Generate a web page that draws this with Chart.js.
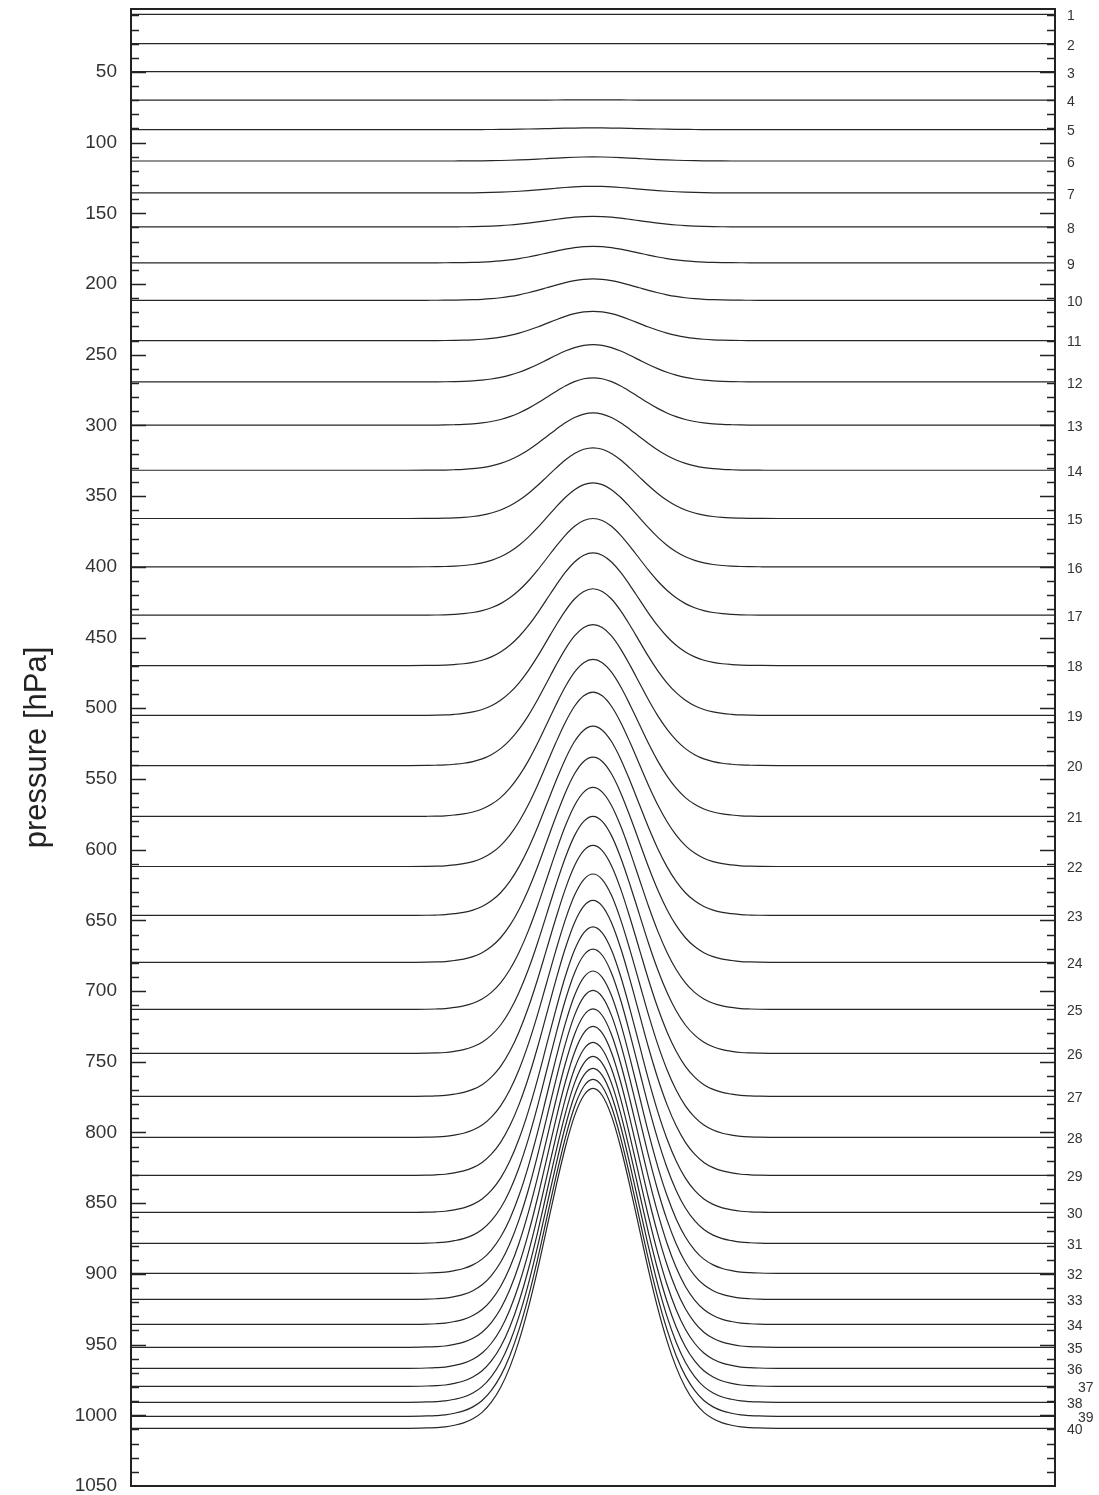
<!DOCTYPE html>
<html>
<head>
<meta charset="utf-8">
<script src="https://cdn.jsdelivr.net/npm/chart.js@4"></script>
<style>
  html, body { margin: 0; padding: 0; background: #fff; }
  #wrap { width: 1099px; height: 1495px; }
</style>
</head>
<body>
<div id="wrap"><canvas id="myChart" width="1099" height="1495"></canvas></div>
<script>
// model level numbers shown on the right
const levelNames = ['1','2','3','4','5','6','7','8','9','10','11','12','13','14','15','16','17','18','19','20',
                    '21','22','23','24','25','26','27','28','29','30','31','32','33','34','35','36','37','38','39','40'];

// pressure of each level over flat ground (hPa)
const levelFlat = [9.3, 30.0, 49.8, 70.0, 90.8, 113.0, 135.6, 159.6, 185.0, 211.5,
                   240.0, 269.2, 299.8, 331.7, 365.8, 400.0, 434.2, 469.8, 505.1, 540.5,
                   576.5, 611.9, 646.5, 679.7, 713.0, 744.1, 774.5, 803.5, 830.3, 856.5,
                   878.4, 899.6, 918.0, 935.7, 951.9, 966.8, 979.5, 990.8, 1000.7, 1009.2];

// pressure of each level over the mountain crest (hPa)
const levelCrest = [9.3, 30.0, 49.8, 69.8, 89.6, 110.1, 130.9, 152.1, 173.3, 196.4,
                    219.3, 242.8, 266.3, 291.1, 315.8, 340.6, 365.8, 390.1, 415.5, 440.8,
                    465.5, 488.6, 512.7, 534.6, 556.0, 576.5, 597.0, 617.2, 635.9, 654.6,
                    670.3, 685.8, 699.5, 712.6, 725.0, 736.3, 746.2, 754.7, 762.5, 768.8];

// horizontal positions and the bump profile read across the section (0 = flat, 1 = crest)
const profileX = [0, 30, 32, 33, 34, 35, 36, 37, 38, 39, 40, 41, 42, 43, 44, 45, 46, 47, 48, 49, 50,
                  51, 52, 53, 54, 55, 56, 57, 58, 59, 60, 61, 62, 63, 64, 65, 66, 67, 68, 70, 100];
const profileShape = [0, 0, 0.001, 0.002, 0.004, 0.009, 0.016, 0.028, 0.047, 0.077, 0.120, 0.180, 0.258, 0.354, 0.466, 0.589, 0.712, 0.826, 0.919, 0.979, 1,
                      0.979, 0.919, 0.826, 0.712, 0.589, 0.466, 0.354, 0.258, 0.180, 0.120, 0.077, 0.047, 0.028, 0.016, 0.009, 0.004, 0.002, 0.001, 0, 0];

// labelled pressure ticks on the left
const pressureTicks = [50, 100, 150, 200, 250, 300, 350, 400, 450, 500, 550, 600, 650, 700, 750, 800, 850, 900, 950, 1000, 1050];

const datasets = levelFlat.map((flat, k) => ({
  label: levelNames[k],
  data: profileX.map((x, i) => ({ x: x, y: flat - (flat - levelCrest[k]) * profileShape[i] })),
  borderColor: '#262626',
  borderWidth: 1.2,
  pointRadius: 0,
  fill: false,
  cubicInterpolationMode: 'monotone'
}));

// inward tick marks, frame and the level numbers
const frameTicks = {
  id: 'frameTicks',
  afterDraw(chart) {
    const { ctx, chartArea: a } = chart;
    const y = chart.scales.y;
    ctx.save();
    ctx.strokeStyle = '#222';
    ctx.lineWidth = 1.5;
    for (let v = 10; v < 1050; v += 10) {
      const py = Math.round(y.getPixelForValue(v)) + 0.5;
      const len = pressureTicks.includes(v) ? 15 : 8;
      ctx.beginPath();
      ctx.moveTo(a.left, py); ctx.lineTo(a.left + len, py);
      ctx.moveTo(a.right, py); ctx.lineTo(a.right - len, py);
      ctx.stroke();
    }
    ctx.lineWidth = 2;
    ctx.strokeRect(a.left, a.top, a.right - a.left, a.bottom - a.top);

    ctx.fillStyle = '#333';
    ctx.font = '14px "Liberation Sans", Arial, sans-serif';
    ctx.textAlign = 'left';
    ctx.textBaseline = 'middle';
    levelNames.forEach((name, k) => {
      const py = y.getPixelForValue(levelFlat[k]) + 2;
      const shift = (name === '37' || name === '39') ? 11 : 0;
      ctx.fillText(name, a.right + 12 + shift, py);
    });
    ctx.restore();
  }
};

const ctx = document.getElementById('myChart').getContext('2d');
const myChart = new Chart(ctx, {
  type: 'line',
  data: { datasets: datasets },
  options: {
    responsive: false,
    animation: false,
    layout: { padding: { top: 9, bottom: 9, left: 0, right: 0 } },
    plugins: { legend: { display: false }, tooltip: { enabled: false } },
    scales: {
      x: { type: 'linear', min: 0, max: 100, display: false },
      y: {
        type: 'linear',
        position: 'left',
        reverse: true,
        min: 5.5,
        max: 1050,
        grid: { display: false, drawTicks: false },
        border: { display: false },
        ticks: {
          stepSize: 50,
          includeBounds: false,
          padding: 14,
          color: '#333',
          font: { family: '"Liberation Sans", Arial, sans-serif', size: 19, lineHeight: 1 },
          callback: (v) => pressureTicks.includes(v) ? String(v) : ''
        },
        title: {
          display: true,
          text: 'pressure [hPa]',
          color: '#222',
          font: { family: '"Liberation Sans", Arial, sans-serif', size: 31, lineHeight: 1 },
          padding: { top: 22, bottom: 0 }
        },
        afterFit: (scale) => { scale.width = 131; scale.paddingTop = 0; scale.paddingBottom = 0; }
      },
      yr: {
        type: 'linear',
        position: 'right',
        reverse: true,
        min: 5.5,
        max: 1050,
        grid: { display: false, drawTicks: false },
        border: { display: false },
        ticks: { display: false },
        afterFit: (scale) => { scale.width = 44; scale.paddingTop = 0; scale.paddingBottom = 0; }
      }
    }
  },
  plugins: [frameTicks]
});
</script>
</body>
</html>
